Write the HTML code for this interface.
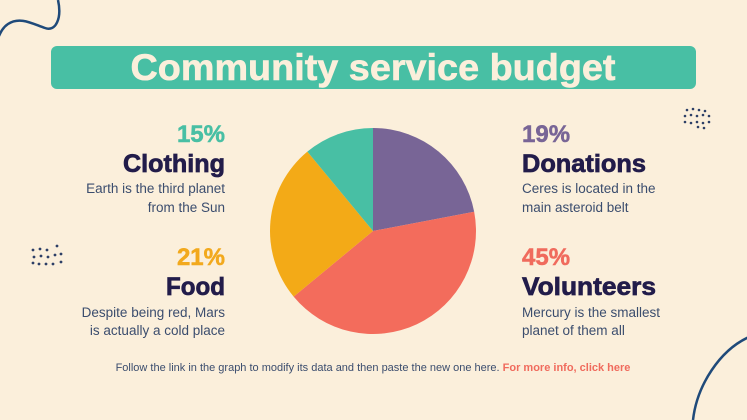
<!DOCTYPE html>
<html><head><meta charset="utf-8"><style>
html,body{margin:0;padding:0;background:#fbefdb;}
svg{display:block;font-family:"Liberation Sans",sans-serif;}
</style></head><body>
<svg width="747" height="420" viewBox="0 0 747 420">
<rect width="747" height="420" fill="#fbefdb"/>
<path d="M58,0 C62,18 56,32 45,28 C33,24 20,16 8,24 C2,28 0,34 -2,38" fill="none" stroke="#1f4a7a" stroke-width="2.5"/>
<path d="M693,420 C697,385 720,350 749,337" fill="none" stroke="#1f4a7a" stroke-width="2.5"/>
<g fill="#2d3f66">
<circle cx="687" cy="110" r="1.3"/><circle cx="693" cy="109" r="1.3"/><circle cx="699" cy="110" r="1.3"/><circle cx="705" cy="111" r="1.3"/>
<circle cx="685" cy="116" r="1.3"/><circle cx="691" cy="115" r="1.3"/><circle cx="697" cy="116" r="1.3"/><circle cx="703" cy="115" r="1.3"/><circle cx="709" cy="116" r="1.3"/>
<circle cx="685" cy="122" r="1.3"/><circle cx="691" cy="123" r="1.3"/><circle cx="697" cy="122" r="1.3"/><circle cx="703" cy="123" r="1.3"/><circle cx="709" cy="122" r="1.3"/>
<circle cx="698" cy="127" r="1.3"/><circle cx="704" cy="128" r="1.3"/>
</g>
<g fill="#2d3f66">
<circle cx="33" cy="250" r="1.4"/><circle cx="40" cy="249" r="1.4"/><circle cx="47" cy="250" r="1.4"/><circle cx="57" cy="246" r="1.4"/>
<circle cx="34" cy="257" r="1.4"/><circle cx="41" cy="256" r="1.4"/><circle cx="48" cy="257" r="1.4"/><circle cx="55" cy="255" r="1.4"/><circle cx="61" cy="254" r="1.4"/>
<circle cx="33" cy="263" r="1.4"/><circle cx="39" cy="264" r="1.4"/><circle cx="46" cy="264" r="1.4"/><circle cx="53" cy="264" r="1.4"/><circle cx="61" cy="262" r="1.4"/>
</g>
<rect x="51" y="46" width="645" height="43" rx="6" fill="#48bfa4"/>
<text x="373" y="80" text-anchor="middle" font-size="37" font-weight="bold" fill="#fbefdb" stroke="#fbefdb" stroke-width="0.6" textLength="485" lengthAdjust="spacingAndGlyphs">Community service budget</text>

<g id="pie"></g>

<g text-anchor="end">
<text x="225" y="142" font-size="24" font-weight="bold" fill="#48bfa4" stroke="#48bfa4" stroke-width="0.5">15%</text>
<text x="225" y="172" font-size="25" font-weight="bold" fill="#221c4a" stroke="#221c4a" stroke-width="0.7" textLength="102" lengthAdjust="spacingAndGlyphs">Clothing</text>
<text x="225" y="193" font-size="13.5" fill="#3b4d6e">Earth is the third planet</text>
<text x="225" y="212" font-size="13.5" fill="#3b4d6e">from the Sun</text>
</g>
<g text-anchor="end">
<text x="225" y="265" font-size="24" font-weight="bold" fill="#f2a91d" stroke="#f2a91d" stroke-width="0.5">21%</text>
<text x="225" y="295" font-size="25" font-weight="bold" fill="#221c4a" stroke="#221c4a" stroke-width="0.7" textLength="59" lengthAdjust="spacingAndGlyphs">Food</text>
<text x="225" y="317" font-size="13.5" fill="#3b4d6e">Despite being red, Mars</text>
<text x="225" y="335" font-size="13.5" fill="#3b4d6e">is actually a cold place</text>
</g>
<g>
<text x="522" y="142" font-size="24" font-weight="bold" fill="#786596" stroke="#786596" stroke-width="0.5">19%</text>
<text x="522" y="172" font-size="25" font-weight="bold" fill="#221c4a" stroke="#221c4a" stroke-width="0.7" textLength="124" lengthAdjust="spacingAndGlyphs">Donations</text>
<text x="522" y="193" font-size="13.5" fill="#3b4d6e">Ceres is located in the</text>
<text x="522" y="212" font-size="13.5" fill="#3b4d6e">main asteroid belt</text>
</g>
<g>
<text x="522" y="265" font-size="24" font-weight="bold" fill="#f06b5d" stroke="#f06b5d" stroke-width="0.5">45%</text>
<text x="522" y="295" font-size="25" font-weight="bold" fill="#221c4a" stroke="#221c4a" stroke-width="0.7" textLength="134" lengthAdjust="spacingAndGlyphs">Volunteers</text>
<text x="522" y="317" font-size="13.5" fill="#3b4d6e">Mercury is the smallest</text>
<text x="522" y="335" font-size="13.5" fill="#3b4d6e">planet of them all</text>
</g>
<text x="373" y="371" text-anchor="middle" font-size="11" fill="#3b4d6e">Follow the link in the graph to modify its data and then paste the new one here. <tspan fill="#f06b5d" font-weight="bold">For more info, click here</tspan></text>
</svg>
<script>
const categories = ["Donations","Volunteers","Food","Clothing"];
const values = [22, 42, 25, 11];
const colors = ["#786596","#f36c5c","#f3aa17","#48bfa4"];
const cx = 373, cy = 231, r = 103;
const g = document.getElementById('pie');
const total = values.reduce((a,b)=>a+b,0);
function pt(frac){const a = frac*2*Math.PI; return [cx + r*Math.sin(a), cy - r*Math.cos(a)];}
let acc = 0;
values.forEach((v,i)=>{
  const p0 = pt(acc/total); acc += v; const p1 = pt(acc/total);
  const large = v/total > 0.5 ? 1 : 0;
  const path = document.createElementNS('http://www.w3.org/2000/svg','path');
  path.setAttribute('d', `M${cx},${cy} L${p0[0]},${p0[1]} A${r},${r} 0 ${large} 1 ${p1[0]},${p1[1]} Z`);
  path.setAttribute('fill', colors[i]);
  
  
  g.appendChild(path);
});
</script>
</body></html>
